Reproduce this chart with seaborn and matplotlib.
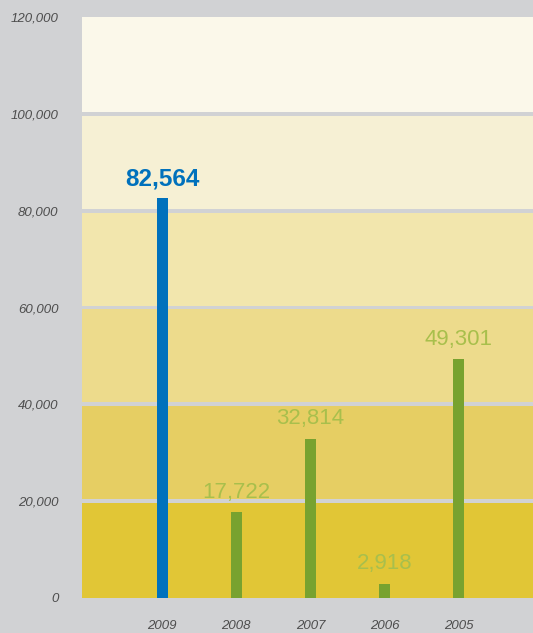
import matplotlib
matplotlib.use("Agg")
import matplotlib.pyplot as plt
import seaborn as sns
import pandas as pd

years = ['2009', '2008', '2007', '2006', '2005']
values = [82564, 17722, 32814, 2918, 49301]
bar_colours = ['#0071BC', '#78A22F', '#78A22F', '#78A22F', '#78A22F']
y_ticks = [0, 20000, 40000, 60000, 80000, 100000, 120000]
band_colours = ['#E1C636', '#E6CE63', '#EDDB8C', '#F2E6AD', '#F6F0D4', '#FBF8EA']


def set_plot_style() -> None:
    """
    Sets the seaborn style and the font used for all texts
    """
    sns.set_theme(style='white')
    plt.rcParams['font.family'] = ['Liberation Sans', 'DejaVu Sans']


def plot_yearly_bars() -> None:
    """
    Bar chart with one bar per year on top of horizontal colour bands
    """
    set_plot_style()
    df = pd.DataFrame({'year': years, 'value': values})

    fig = plt.figure(figsize=(5.33, 6.33), dpi=100)
    fig.patch.set_facecolor('#D1D2D4')
    ax = fig.add_axes([82 / 533, 35 / 633, 451 / 533, 581 / 633])
    ax.set_facecolor('#D1D2D4')

    gap = 820
    for idx, colour in enumerate(band_colours):
        lo = y_ticks[idx] + (gap / 2 if idx > 0 else 0)
        hi = y_ticks[idx + 1] - (gap / 2 if idx < len(band_colours) - 1 else 0)
        ax.axhspan(lo, hi, color=colour, lw=0, zorder=0)

    sns.barplot(data=df, x='year', y='value', hue='year', palette=bar_colours,
                order=years, width=0.15, legend=False, ax=ax, zorder=2,
                saturation=1, linewidth=0)

    for idx, (yr, val) in enumerate(zip(years, values)):
        if idx == 0:
            ax.text(idx, val + 1600, f'{val:,}', ha='center', va='bottom',
                    color='#0071BC', fontsize=17.5, fontweight='bold', zorder=3)
        else:
            ax.text(idx, val + 2000, f'{val:,}', ha='center', va='bottom',
                    color='#A8BF4C', fontsize=16, zorder=3)

    ax.set_xlim(-1.08, 5.0)
    ax.set_ylim(0, 120000)
    ax.set_yticks(y_ticks)
    ax.set_yticklabels([f'{t:,}' for t in y_ticks])
    ax.tick_params(axis='both', length=0, colors='#4D4D4D', labelsize=9.5)
    ax.tick_params(axis='y', pad=17)
    ax.tick_params(axis='x', pad=16)
    for lbl in ax.get_xticklabels() + ax.get_yticklabels():
        lbl.set_fontstyle('italic')
    ax.set_xlabel('')
    ax.set_ylabel('')
    for side in ax.spines.values():
        side.set_visible(False)

    fig.savefig('out.png', dpi=100, facecolor=fig.get_facecolor())


plot_yearly_bars()
